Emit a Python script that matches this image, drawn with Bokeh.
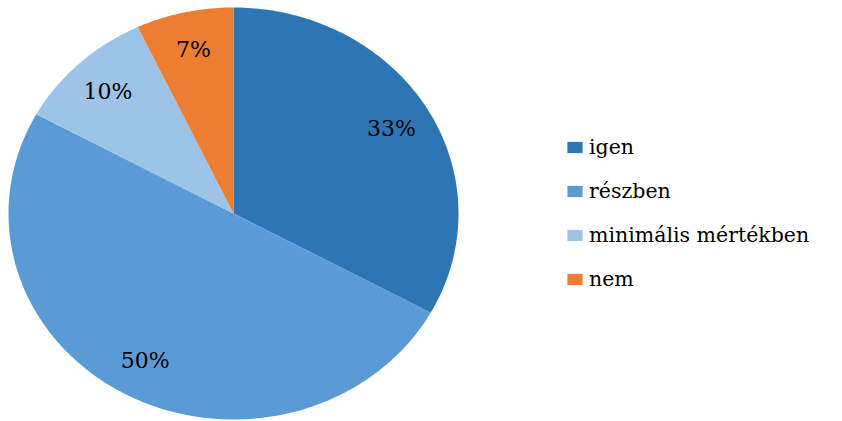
import numpy as np
from bokeh.plotting import figure
from bokeh.models import ColumnDataSource, Legend, LegendItem, Range1d
from bokeh.core.properties import value
from bokeh.embed import file_html
from bokeh.resources import INLINE

categories = ["igen", "részben", "minimális mértékben", "nem"]
shares = [33, 50, 10, 7]
labels = ["33%", "50%", "10%", "7%"]
colors = ["#2E75B6", "#5B9BD5", "#9DC3E6", "#ED7D31"]

W, H = 842, 421
RX, RY = 225.0, 206.0
CX, CY = 233.0, 208.0  # pie centre in frame pixels (from left, from bottom)
FONT = "DejaVu Serif"

p = figure(width=W, height=H, output_backend="svg", toolbar_location=None,
           x_range=Range1d(-CX, W - CX), y_range=Range1d(-CY, H - CY),
           min_border=0, outline_line_color=None)
p.axis.visible = False
p.grid.visible = False
p.background_fill_color = "white"

total = float(sum(shares))
start = np.pi / 2
xs, ys, lx, ly = [], [], [], []
for s in shares:
    sweep = 2 * np.pi * s / total
    t = np.linspace(start, start - sweep, max(int(s * 4), 12))
    xs.append([0.0] + list(RX * np.cos(t)))
    ys.append([0.0] + list(RY * np.sin(t)))
    mid = start - sweep / 2
    lx.append(0.815 * RX * np.cos(mid))
    ly.append(0.815 * RY * np.sin(mid))
    start -= sweep

src = ColumnDataSource(dict(xs=xs, ys=ys, color=colors, cat=categories))
r = p.patches("xs", "ys", source=src, fill_color="color", line_color=None)

tsrc = ColumnDataSource(dict(x=lx, y=ly, t=labels))
p.text("x", "y", text="t", source=tsrc, text_align="center", text_baseline="middle",
       text_font=value(FONT), text_font_size="22px", text_color="black")

items = [LegendItem(label=c, renderers=[r], index=i) for i, c in enumerate(categories)]
legend = Legend(items=items, location=(565, 129), orientation="vertical",
                glyph_width=19, glyph_height=14, label_height=26, spacing=18,
                label_standoff=5, padding=0, margin=0,
                label_text_font=FONT, label_text_font_size="20.5px",
                label_text_color="black", border_line_color=None,
                background_fill_alpha=0)
p.add_layout(legend, "center")

open("out.html", "w").write(file_html(p, INLINE))
